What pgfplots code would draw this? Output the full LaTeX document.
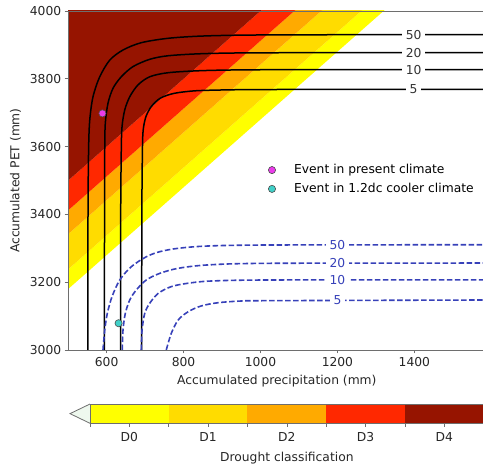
\documentclass[border=0pt]{standalone}
\usepackage{fontspec}
\setmainfont{DejaVu Sans}
\usepackage{pgfplots}
\pgfplotsset{compat=1.18}
\newcommand\fs{\fontsize{12.3}{14.5}\selectfont}
\definecolor{cD0}{RGB}{255,255,0}
\definecolor{cD1}{RGB}{255,220,0}
\definecolor{cD2}{RGB}{255,170,0}
\definecolor{cD3}{RGB}{255,40,0}
\definecolor{cD4}{RGB}{150,20,0}
\definecolor{cblue}{RGB}{55,65,185}
\definecolor{cmag}{RGB}{235,60,235}
\definecolor{ccyan}{RGB}{64,208,200}
\definecolor{cext}{RGB}{238,248,238}
\definecolor{spine}{RGB}{110,110,110}
\pgfplotsset{
  every tick label/.append style={font=\fs, text=black!85},
  label style={font=\fs, text=black!85},
  /pgf/number format/assume math mode=true,
  /pgf/number format/1000 sep={},
}
\begin{document}
\begin{tikzpicture}[x=1pt,y=1pt]
\useasboundingbox (0,0) rectangle (483,464);
\begin{axis}[
  at={(68.2pt,114pt)}, anchor=south west,
  width=417.3pt, height=339pt, scale only axis,
  xmin=500, xmax=1585, ymin=3000, ymax=4000,
  xtick={600,800,1000,1200,1400},
  ytick={3000,3200,3400,3600,3800,4000},
  tick align=outside, xtick pos=bottom, ytick pos=left,
  major tick length=3.5pt,
  tick style={spine, line width=0.7pt},
  axis line style={spine, line width=0.8pt},
  xlabel={Accumulated precipitation (mm)},
  ylabel={Accumulated PET (mm)},
  xlabel style={yshift=-2pt},
  ylabel style={yshift=2pt},
  axis on top,
  legend cell align=left,
  legend image code/.code={\draw[#1] plot coordinates {(0cm,0cm)}; \path (-0.15cm,0cm) (0.7cm,0cm);},
  legend style={draw=none, fill=none, font=\fs, at={(axis description cs:0.47,0.503)}, anchor=west, row sep=4pt},
]
% drought bands: y = x + c
\addplot[fill=cD0, draw=none, forget plot] coordinates {(300,2980)(1800,4480)(1800,4538)(300,3038)} -- cycle;
\addplot[fill=cD1, draw=none, forget plot] coordinates {(300,3038)(1800,4538)(1800,4642)(300,3142)} -- cycle;
\addplot[fill=cD2, draw=none, forget plot] coordinates {(300,3142)(1800,4642)(1800,4712)(300,3212)} -- cycle;
\addplot[fill=cD3, draw=none, forget plot] coordinates {(300,3212)(1800,4712)(1800,4800)(300,3300)} -- cycle;
\addplot[fill=cD4, draw=none, forget plot] coordinates {(300,3300)(1800,4800)(1800,5000)(300,5000)} -- cycle;
% present climate contours
\addplot[black, line width=1.5pt, smooth, tension=0.5, forget plot] coordinates {(551,3000)(551.5,3400)(553,3590)(556,3678)(564.5,3747)(582,3806)(608,3855)(642.5,3885)(690,3906.5)(760,3919.5)(846,3926)(968,3929)(1200,3930)(1585,3930.5)};
\addplot[black, line width=1.5pt, smooth, tension=0.5, forget plot] coordinates {(594,3000)(594.5,3400)(595,3590)(596.5,3669)(603.5,3728)(616.5,3772)(638,3806)(668.5,3836)(712,3857.5)(760,3868)(846,3874)(968,3876.5)(1200,3877)(1585,3877)};
\addplot[black, line width=1.5pt, smooth, tension=0.5, forget plot] coordinates {(636,3000)(636.5,3400)(638,3590)(640,3659)(647,3708)(660,3747)(681.5,3782)(712,3806)(760,3818)(846,3824)(968,3826.5)(1200,3827)(1585,3827)};
\addplot[black, line width=1.5pt, smooth, tension=0.5, forget plot] coordinates {(691,3000)(691.5,3400)(693,3590)(695,3649)(702,3688)(716,3718)(739,3742.5)(775,3757)(829,3764.5)(898,3767)(968,3768)(1200,3769)(1585,3769)};
% cooler climate contours
\addplot[cblue, line width=1.6pt, dash pattern=on 5.5pt off 2.5pt, smooth, tension=0.5, forget plot] coordinates {(590.5,3000)(595,3059)(601.7,3108)(614,3157.5)(634,3206.5)(664,3245.7)(703,3275)(738,3290)(786,3300)(864,3306.8)(1020,3309.7)(1585,3310.5)};
\addplot[cblue, line width=1.6pt, dash pattern=on 5.5pt off 2.5pt, smooth, tension=0.5, forget plot] coordinates {(640.7,3000)(642.5,3059)(648.5,3108)(660,3147.5)(677,3177)(703,3206.5)(738,3226)(786,3241)(864,3251)(1020,3255.7)(1585,3256.5)};
\addplot[cblue, line width=1.6pt, dash pattern=on 5.5pt off 2.5pt, smooth, tension=0.5, forget plot] coordinates {(690,3000)(692,3059)(699,3108)(712,3138)(734,3167)(768,3187)(812,3197)(872,3203.5)(1020,3206.5)(1585,3207)};
\addplot[cblue, line width=1.6pt, dash pattern=on 5.5pt off 2.5pt, smooth, tension=0.5, forget plot] coordinates {(755,3000)(768,3049)(786,3088.5)(812,3113)(846,3130)(890,3139.5)(950,3144.5)(1020,3145.5)(1585,3147.5)};
% inline labels
\node[fill=white, inner xsep=4pt, inner ysep=0.5pt, font=\fs, text=black!80] at (axis cs:1398,3930) {50};
\node[fill=white, inner xsep=4pt, inner ysep=0.5pt, font=\fs, text=black!80] at (axis cs:1398,3877) {20};
\node[fill=white, inner xsep=4pt, inner ysep=0.5pt, font=\fs, text=black!80] at (axis cs:1398,3827) {10};
\node[fill=white, inner xsep=4pt, inner ysep=0.5pt, font=\fs, text=black!80] at (axis cs:1398,3769) {5};
\node[fill=white, inner xsep=4pt, inner ysep=0.5pt, font=\fs, text=cblue] at (axis cs:1200,3310) {50};
\node[fill=white, inner xsep=4pt, inner ysep=0.5pt, font=\fs, text=cblue] at (axis cs:1200,3256) {20};
\node[fill=white, inner xsep=4pt, inner ysep=0.5pt, font=\fs, text=cblue] at (axis cs:1200,3207) {10};
\node[fill=white, inner xsep=4pt, inner ysep=0.5pt, font=\fs, text=cblue] at (axis cs:1200,3147) {5};
% events
\addplot[only marks, mark=*, mark size=3.6pt, mark options={fill=cmag, draw=black!70, line width=0.6pt}] coordinates {(589,3698)};
\addlegendentry{Event in present climate}
\addplot[only marks, mark=*, mark size=3.6pt, mark options={fill=ccyan, draw=black!70, line width=0.6pt}] coordinates {(631,3079)};
\addlegendentry{Event in 1.2dc cooler climate}
\end{axis}
% colorbar
\begin{axis}[
  at={(90pt,40.7pt)}, anchor=south west,
  width=393.7pt, height=19.3pt, scale only axis,
  xmin=-0.5, xmax=4.5, ymin=0, ymax=1,
  ytick=\empty,
  xtick={0,1,2,3,4}, xticklabels={D0,D1,D2,D3,D4},
  minor xtick={-0.5,0.5,1.5,2.5,3.5,4.5},
  xtick pos=bottom, tick align=outside,
  major tick length=3.5pt, minor tick length=3.5pt,
  tick style={spine, line width=0.7pt},
  axis line style={spine, line width=0.8pt},
  xlabel={Drought classification},
  xticklabel style={yshift=-2pt},
  xlabel style={yshift=-4pt},
  clip=false, axis on top,
]
\addplot[fill=cD0, draw=none] coordinates {(-0.5,0)(0.5,0)(0.5,1)(-0.5,1)} -- cycle;
\addplot[fill=cD1, draw=none] coordinates {(0.5,0)(1.5,0)(1.5,1)(0.5,1)} -- cycle;
\addplot[fill=cD2, draw=none] coordinates {(1.5,0)(2.5,0)(2.5,1)(1.5,1)} -- cycle;
\addplot[fill=cD3, draw=none] coordinates {(2.5,0)(3.5,0)(3.5,1)(2.5,1)} -- cycle;
\addplot[fill=cD4, draw=none] coordinates {(3.5,0)(4.5,0)(4.5,1)(3.5,1)} -- cycle;
\addplot[fill=cext, draw=none] coordinates {(-0.5,0)(-0.754,0.5)(-0.5,1)} -- cycle;
\addplot[spine, line width=0.8pt] coordinates {(-0.5,0)(-0.754,0.5)(-0.5,1)};
\end{axis}
\end{tikzpicture}
\end{document}
